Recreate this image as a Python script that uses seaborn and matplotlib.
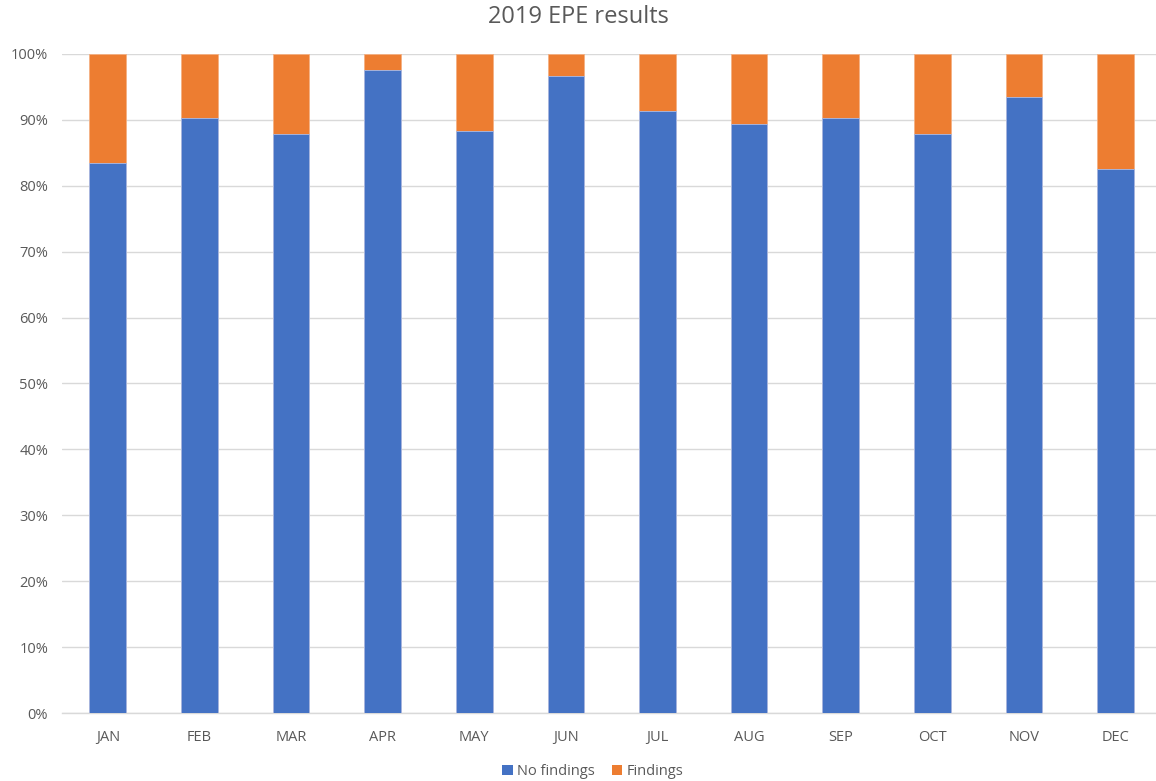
import matplotlib
matplotlib.use("Agg")
import matplotlib.pyplot as plt
import seaborn as sns
import pandas as pd
import numpy as np
from matplotlib.patches import Patch
from matplotlib.ticker import PercentFormatter

months = ["JAN", "FEB", "MAR", "APR", "MAY", "JUN", "JUL", "AUG", "SEP", "OCT", "NOV", "DEC"]
no_findings = [83.4, 90.2, 87.9, 97.6, 88.3, 96.7, 91.3, 89.4, 90.2, 87.9, 93.4, 82.5]
findings = [16.6, 9.8, 12.1, 2.4, 11.7, 3.3, 8.7, 10.6, 9.8, 12.1, 6.6, 17.5]

blue = "#4472C4"
orange = "#ED7D31"
grey_text = "#595959"

sns.set_theme(style="white")
plt.rcParams["font.family"] = ["Open Sans", "DejaVu Sans"]

df = pd.DataFrame({"month": months, "no": no_findings, "yes": findings})
df["total"] = df["no"] + df["yes"]

fig = plt.figure(figsize=(11.56, 7.81), dpi=100)
ax = fig.add_axes([0.0536, 0.087, 0.951, 0.844])

sns.barplot(data=df, x="month", y="total", color=orange, width=0.4,
            edgecolor="#F4B183", linewidth=0.6, saturation=1, ax=ax, zorder=3)
sns.barplot(data=df, x="month", y="no", color=blue, width=0.4,
            edgecolor="#A9BCE8", linewidth=0.6, saturation=1, ax=ax, zorder=4)

ax.set_ylim(0, 100)
ax.set_yticks(np.arange(0, 101, 10))
ax.yaxis.set_major_formatter(PercentFormatter(decimals=0))
ax.grid(axis="y", color="#D9D9D9", linewidth=1.0, zorder=0)
ax.set_axisbelow(True)
for s in ["top", "right", "left"]:
    ax.spines[s].set_visible(False)
ax.spines["bottom"].set_color("#D9D9D9")
ax.spines["bottom"].set_linewidth(1.0)
ax.set_xlabel("")
ax.set_ylabel("")
ax.tick_params(axis="both", length=0, colors=grey_text, labelsize=10.5)
ax.tick_params(axis="x", pad=12)
ax.tick_params(axis="y", pad=10)
ax.set_xlim(-0.5, 11.5)

fig.text(0.5, 0.978, "2019 EPE results", ha="center", va="center",
         fontsize=17, color=grey_text)

handles = [Patch(facecolor=blue, edgecolor="none", label="No findings"),
           Patch(facecolor=orange, edgecolor="none", label="Findings")]
fig.legend(handles=handles, loc="center", bbox_to_anchor=(0.513, 0.012),
           ncol=2, frameon=False, fontsize=10.5, labelcolor=grey_text,
           handlelength=0.7, handleheight=0.7, handletextpad=0.3, columnspacing=1.2)

fig.savefig("out.png", dpi=100)
